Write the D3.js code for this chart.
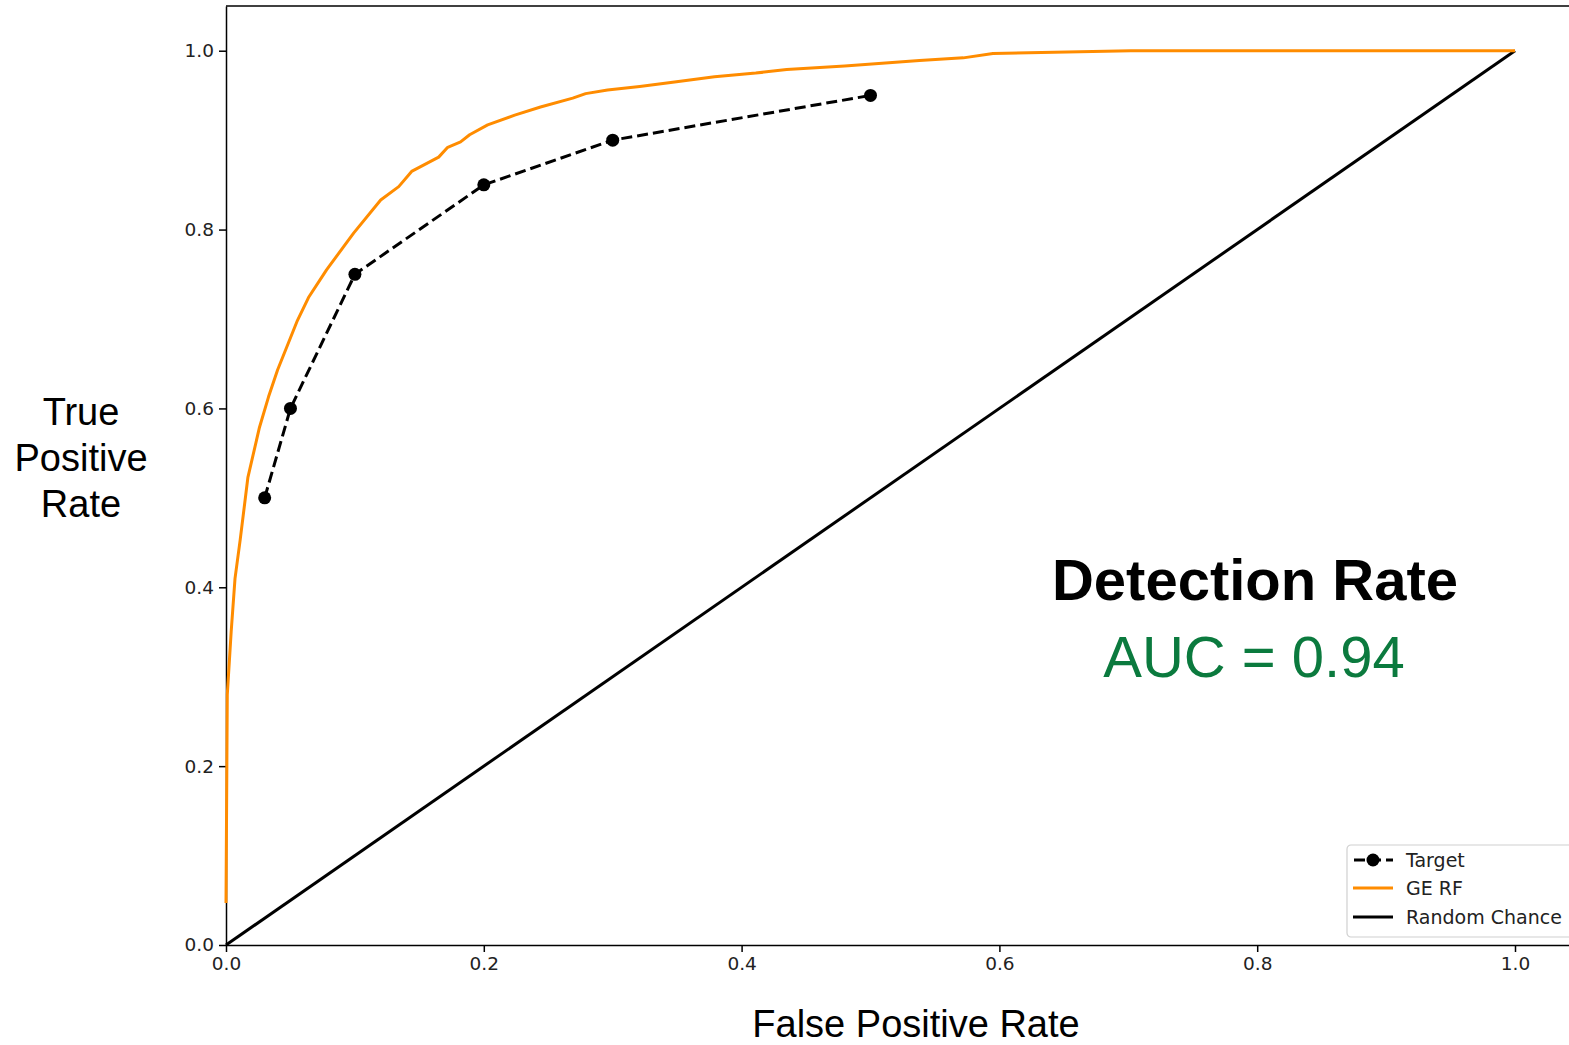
<!DOCTYPE html>
<html>
<head>
<meta charset="utf-8">
<script src="https://cdn.jsdelivr.net/npm/d3@7"></script>
<style>
  body { margin: 0; background: #fff; }
  svg { display: block; }
</style>
</head>
<body>
<svg id="chart"></svg>
<script>
// ROC curves
var rfFpr = [0, 0.001, 0.004, 0.007, 0.011, 0.017, 0.026, 0.033, 0.040, 0.055, 0.064, 0.078,
             0.099, 0.120, 0.134, 0.144, 0.165, 0.172, 0.182, 0.189, 0.203, 0.224, 0.244,
             0.269, 0.279, 0.296, 0.321, 0.348, 0.379, 0.411, 0.435, 0.480, 0.538, 0.572,
             0.595, 0.702, 1.0];
var rfTpr = [0.047, 0.28, 0.35, 0.41, 0.453, 0.523, 0.579, 0.613, 0.643, 0.697, 0.724, 0.755,
             0.796, 0.833, 0.848, 0.865, 0.881, 0.892, 0.898, 0.906, 0.917, 0.928, 0.937,
             0.947, 0.952, 0.956, 0.960, 0.965, 0.971, 0.975, 0.979, 0.983, 0.989, 0.992,
             0.997, 1.0, 1.0];

var targetFpr = [0.03, 0.05, 0.1, 0.2, 0.3, 0.5];
var targetTpr = [0.5, 0.6, 0.75, 0.85, 0.9, 0.95];

var chanceFpr = [0, 1];
var chanceTpr = [0, 1];

var tickValues = [0, 0.2, 0.4, 0.6, 0.8, 1.0];
var legendLabels = ['Target', 'GE RF', 'Random Chance'];

var svgWidth = 1569, svgHeight = 1045;
var plotLeft = 226, plotBottom = 945, plotTop = 6;
var unitX = 1289; // pixels for one unit of FPR
var orange = '#ff8c00', green = '#0b7a3e';

var svg = d3.select('#chart')
    .attr('width', svgWidth)
    .attr('height', svgHeight);

var x = d3.scaleLinear().domain([0, 1.05]).range([plotLeft, plotLeft + 1.05 * unitX]);
var y = d3.scaleLinear().domain([0, 1.05]).range([plotBottom, plotTop]);

var tickFont = '"DejaVu Sans", sans-serif';
var labelFont = '"Liberation Sans", Arial, sans-serif';

// axes
var xAxis = d3.axisBottom(x).tickValues(tickValues).tickFormat(d3.format('.1f'))
    .tickSizeInner(7).tickSizeOuter(0).tickPadding(5);
var yAxis = d3.axisLeft(y).tickValues(tickValues).tickFormat(d3.format('.1f'))
    .tickSizeInner(7).tickSizeOuter(0).tickPadding(5);

var gx = svg.append('g').attr('class', 'x-axis')
    .attr('transform', `translate(0,${plotBottom})`).call(xAxis);
var gy = svg.append('g').attr('class', 'y-axis')
    .attr('transform', `translate(${plotLeft},0)`).call(yAxis);

[gx, gy].forEach(function (g) {
  g.select('.domain').attr('stroke', '#000').attr('stroke-width', 1.5);
  g.selectAll('.tick line').attr('stroke', '#000').attr('stroke-width', 1.5);
  g.selectAll('.tick text').attr('fill', '#222')
    .style('font-family', tickFont).style('font-size', '18.5px');
});

// top spine
svg.append('line')
    .attr('x1', plotLeft).attr('x2', svgWidth + 20)
    .attr('y1', y(1.05)).attr('y2', y(1.05))
    .attr('stroke', '#000').attr('stroke-width', 1.5);

var plot = svg.append('g');

var line = d3.line()
    .x(function (d) { return x(d[0]); })
    .y(function (d) { return y(d[1]); });

// random chance diagonal
plot.append('path')
    .datum(d3.zip(chanceFpr, chanceTpr))
    .attr('d', line)
    .attr('fill', 'none').attr('stroke', '#000').attr('stroke-width', 3);

// GE RF curve
plot.append('path')
    .datum(d3.zip(rfFpr, rfTpr))
    .attr('d', line)
    .attr('fill', 'none').attr('stroke', orange).attr('stroke-width', 3)
    .attr('stroke-linejoin', 'round');

// target points
var targetData = d3.zip(targetFpr, targetTpr);
plot.append('path')
    .datum(targetData)
    .attr('d', line)
    .attr('fill', 'none').attr('stroke', '#000').attr('stroke-width', 3)
    .attr('stroke-dasharray', '11,5');
plot.selectAll('circle.target')
    .data(targetData)
    .enter().append('circle')
    .attr('class', 'target')
    .attr('cx', function (d) { return x(d[0]); })
    .attr('cy', function (d) { return y(d[1]); })
    .attr('r', 6.5)
    .attr('fill', '#000');

// axis labels
svg.append('text')
    .attr('x', 916).attr('y', 1037)
    .attr('text-anchor', 'middle')
    .style('font-family', labelFont).style('font-size', '38px')
    .text('False Positive Rate');

var yLabel = svg.append('text')
    .attr('text-anchor', 'middle')
    .style('font-family', labelFont).style('font-size', '38px');
['True', 'Positive', 'Rate'].forEach(function (t, i) {
  yLabel.append('tspan').attr('x', 81).attr('y', 425 + i * 46).text(t);
});

// annotation
svg.append('text')
    .attr('x', 1255).attr('y', 600)
    .attr('text-anchor', 'middle')
    .style('font-family', labelFont).style('font-size', '58px').style('font-weight', 'bold')
    .text('Detection Rate');
svg.append('text')
    .attr('x', 1254).attr('y', 677)
    .attr('text-anchor', 'middle')
    .attr('fill', green)
    .style('font-family', labelFont).style('font-size', '58px')
    .text('AUC = 0.94');

// legend
var legend = svg.append('g').attr('transform', 'translate(1347,845)');
legend.append('rect')
    .attr('width', 250).attr('height', 92).attr('rx', 4)
    .attr('fill', '#fff').attr('fill-opacity', 0.8)
    .attr('stroke', '#d0d0d0').attr('stroke-width', 1.2);

var rowY = [15, 43, 72];
legendLabels.forEach(function (lab, i) {
  var row = legend.append('g').attr('transform', `translate(0,${rowY[i]})`);
  var hl = row.append('line')
      .attr('x1', 6).attr('x2', 46).attr('y1', 0).attr('y2', 0)
      .attr('stroke', i === 1 ? orange : '#000').attr('stroke-width', 3);
  if (i === 0) {
    hl.attr('stroke-dasharray', '11,5').attr('stroke-dashoffset', -1);
    row.append('circle').attr('cx', 26).attr('cy', 0).attr('r', 6.5).attr('fill', '#000');
  }
  row.append('text')
      .attr('x', 59).attr('y', 7)
      .attr('fill', '#222')
      .style('font-family', tickFont).style('font-size', '19px')
      .text(lab);
});
</script>
</body>
</html>
